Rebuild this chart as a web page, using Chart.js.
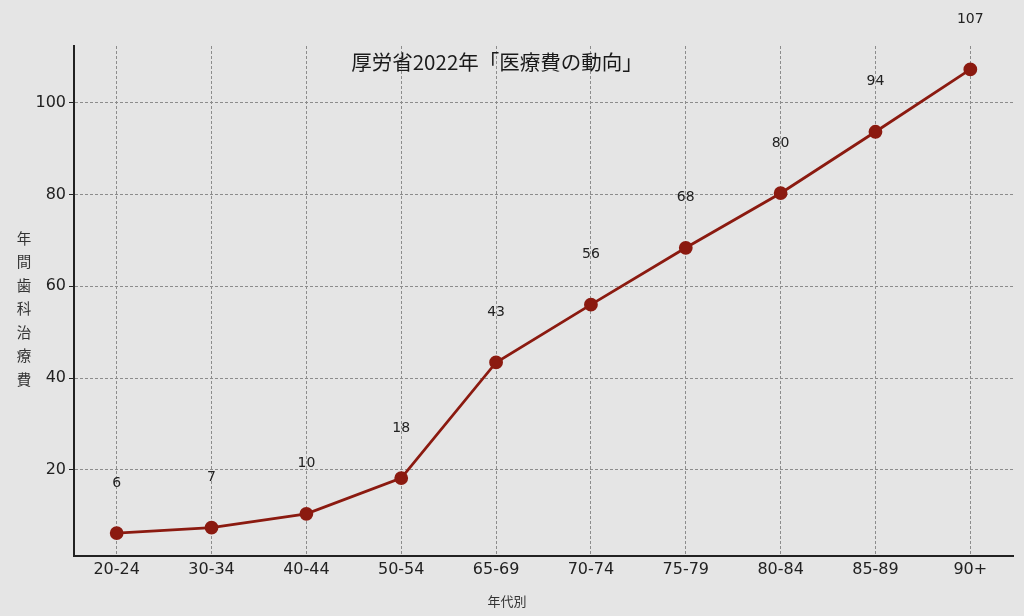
<!DOCTYPE html>
<html lang="ja">
<head>
<meta charset="utf-8">
<title>厚労省2022年「医療費の動向」</title>
<script src="https://cdn.jsdelivr.net/npm/chart.js@4/dist/chart.umd.min.js"></script>
<style>
    html, body { margin: 0; padding: 0; background: #e5e5e5; }
    #wrap { width: 1024px; height: 616px; }
</style>
</head>
<body>
<div id="wrap"><canvas id="chart" width="1024" height="616"></canvas></div>
<script>
// Datos
const ageGroups = ['20-24', '30-34', '40-44', '50-54', '65-69', '70-74', '75-79', '80-84', '85-89', '90+'];
const costValues = [6.2, 7.4, 10.4, 18.2, 43.4, 56.0, 68.4, 80.3, 93.7, 107.3];
const yTicks = [20, 40, 60, 80, 100];

const titleText = '厚労省2022年「医療費の動向」';
const yTitle = '年間歯科治療費';
const xTitle = '年代別';

const lineColor = '#8b1a10';
const gridColor = '#8c8c8c';
const cjkFont = '"Noto Sans CJK JP", "Noto Sans", sans-serif';
const tickFont = '"DejaVu Sans", sans-serif';

// Fondo, título y etiquetas
const extras = {
    id: 'extras',
    beforeDraw(chart) {
        const ctx = chart.ctx;
        ctx.save();
        ctx.fillStyle = '#e5e5e5';
        ctx.fillRect(0, 0, chart.width, chart.height);
        ctx.restore();
    },
    afterDatasetsDraw(chart) {
        const ctx = chart.ctx;
        const meta = chart.getDatasetMeta(0);
        ctx.save();
        ctx.fillStyle = '#222';
        ctx.font = '14px ' + tickFont;
        ctx.textAlign = 'center';
        ctx.textBaseline = 'middle';
        meta.data.forEach((pt, i) => {
            ctx.fillText(String(Math.round(costValues[i])), pt.x, pt.y - 50);
        });

        // título
        ctx.font = '20.5px ' + cjkFont;
        ctx.fillStyle = '#1a1a1a';
        ctx.fillText(titleText, 497, 62);

        // eje y (vertical)
        ctx.font = '14.5px ' + cjkFont;
        ctx.fillStyle = '#333';
        [...yTitle].forEach((ch, i) => {
            ctx.fillText(ch, 24, 238 + i * 23.5);
        });

        // eje x
        ctx.font = '13px ' + cjkFont;
        ctx.fillText(xTitle, 507, 601);
        ctx.restore();
    }
};

new Chart(document.getElementById('chart'), {
    type: 'line',
    data: {
        datasets: [{
            data: costValues.map((v, i) => ({ x: i, y: v })),
            borderColor: lineColor,
            backgroundColor: lineColor,
            borderWidth: 2.8,
            pointRadius: 5.5,
            pointBackgroundColor: lineColor,
            pointBorderColor: lineColor,
            tension: 0
        }]
    },
    options: {
        responsive: false,
        animation: false,
        events: [],
        plugins: {
            legend: { display: false },
            tooltip: { enabled: false }
        },
        layout: {
            padding: { top: 46, right: 11, bottom: 0, left: 0 }
        },
        scales: {
            x: {
                type: 'linear',
                min: -0.45,
                max: 9.45,
                afterBuildTicks: (s) => { s.ticks = ageGroups.map((_, i) => ({ value: i })); },
                afterFit: (s) => { s.height = 60; },
                ticks: {
                    callback: (v) => ageGroups[v],
                    font: { family: tickFont, size: 16 },
                    color: '#222',
                    padding: 4,
                    maxRotation: 0
                },
                grid: {
                    color: gridColor,
                    lineWidth: 1,
                    drawTicks: false
                },
                border: { color: '#222', width: 2, dash: [3, 2] }
            },
            y: {
                min: 1.2,
                max: 112.4,
                afterBuildTicks: (s) => { s.ticks = yTicks.map(v => ({ value: v })); },
                afterFit: (s) => { s.width = 74; },
                ticks: {
                    font: { family: tickFont, size: 16 },
                    color: '#222',
                    padding: 3
                },
                grid: {
                    color: gridColor,
                    lineWidth: 1,
                    tickLength: 5,
                    tickColor: '#222',
                    tickBorderDash: []
                },
                border: { color: '#222', width: 2, dash: [3, 2] }
            }
        }
    },
    plugins: [extras]
});
</script>
</body>
</html>
